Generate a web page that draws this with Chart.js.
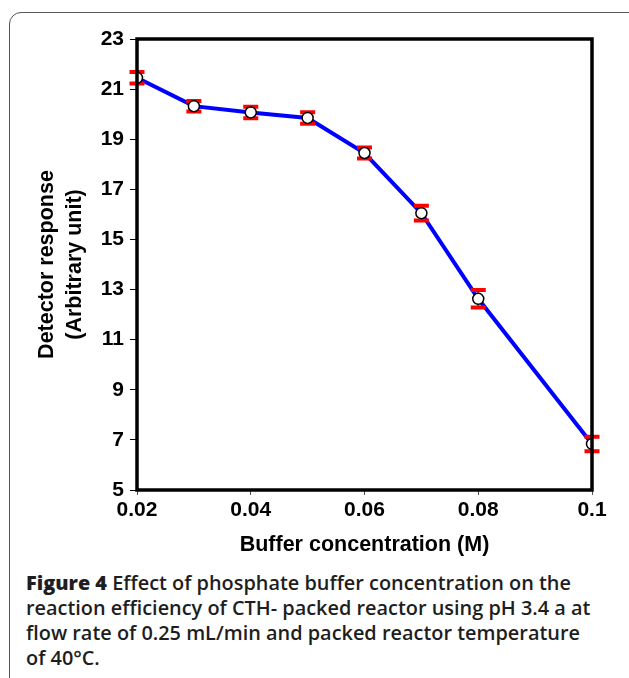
<!DOCTYPE html>
<html>
<head>
<meta charset="utf-8">
<script src="https://cdn.jsdelivr.net/npm/chart.js@4/dist/chart.umd.min.js"></script>
<style>
  body { margin: 0; background: #fff; width: 629px; height: 678px; overflow: hidden; position: relative; }
  #frame { position: absolute; left: 9px; top: 12px; width: 640px; height: 700px; border: 1.5px solid #555; border-radius: 12px; box-sizing: border-box; }
  #chart { position: absolute; left: 0; top: 0; }
  #caption { position: absolute; left: 26px; top: 570px; width: 600px; font-family: "Open Sans", sans-serif; font-size: 19.9px; font-weight: 600; line-height: 25px; color: #1e1e1e; white-space: nowrap; }
  #caption b { font-weight: 800; }
</style>
</head>
<body>
<div id="frame"></div>
<canvas id="chart" width="629" height="560"></canvas>
<div id="caption"><b>Figure 4</b> Effect of phosphate buffer concentration on the<br>reaction efficiency of CTH- packed reactor using pH 3.4 a at<br>flow rate of 0.25 mL/min and packed reactor temperature<br>of 40°C.</div>
<script>
// valeurs
const concentrations = [0.02, 0.03, 0.04, 0.05, 0.06, 0.07, 0.08, 0.1];
const reponses = [21.45, 20.32, 20.07, 19.85, 18.45, 16.05, 12.63, 6.84];
const erreurs = [0.23, 0.21, 0.23, 0.23, 0.22, 0.29, 0.35, 0.29];
const xTickLabels = ['0.02', '0.04', '0.06', '0.08', '0.1'];
const yTickLabels = ['5', '7', '9', '11', '13', '15', '17', '19', '21', '23'];

const points = concentrations.map((c, i) => ({x: c, y: reponses[i]}));

const errorBars = {
	id: 'errorBars',
	afterDatasetDraw(chart, args) {
		if (args.index !== 0) return;
		const ctx = chart.ctx;
		const xs = chart.scales.x, ys = chart.scales.y;
		ctx.save();
		ctx.strokeStyle = '#ff0000';
		concentrations.forEach((c, i) => {
			const px = xs.getPixelForValue(c);
			const top = ys.getPixelForValue(reponses[i] + erreurs[i]);
			const bot = ys.getPixelForValue(reponses[i] - erreurs[i]);
			ctx.lineWidth = 2;
			ctx.beginPath();
			ctx.moveTo(px, top); ctx.lineTo(px, bot);
			ctx.stroke();
			ctx.lineWidth = 4;
			ctx.beginPath();
			ctx.moveTo(px - 7.5, top); ctx.lineTo(px + 7.5, top);
			ctx.moveTo(px - 7.5, bot); ctx.lineTo(px + 7.5, bot);
			ctx.stroke();
		});
		ctx.restore();
	}
};

const cadre = {
	id: 'cadre',
	afterDraw(chart) {
		const a = chart.chartArea, ctx = chart.ctx;
		ctx.save();
		ctx.strokeStyle = '#000';
		ctx.lineWidth = 3.5;
		ctx.strokeRect(a.left, a.top, a.right - a.left, a.bottom - a.top);
		ctx.restore();
	}
};

new Chart(document.getElementById('chart'), {
	type: 'line',
	data: {
		datasets: [{
			data: points,
			borderColor: '#0000ff',
			borderWidth: 4,
			pointRadius: 0,
			fill: false,
			order: 2
		}, {
			data: points,
			showLine: false,
			pointRadius: 5.5,
			pointBackgroundColor: '#fff',
			pointBorderColor: '#000',
			pointBorderWidth: 1.5,
			order: 1
		}]
	},
	options: {
		responsive: false,
		animation: false,
		events: [],
		layout: { padding: { left: 0, top: 39, right: 37, bottom: 0 } },
		plugins: { legend: { display: false }, tooltip: { enabled: false } },
		scales: {
			x: {
				type: 'linear',
				min: 0.02, max: 0.1,
				afterFit: s => { s.height = 70; },
				afterBuildTicks: s => { s.ticks = xTickLabels.map(v => ({value: parseFloat(v)})); },
				ticks: {
					callback: (v, i) => xTickLabels[i],
					color: '#000',
					font: { family: 'Liberation Sans', size: 21, weight: 'bold' },
					padding: 3,
					maxRotation: 0
				},
				grid: { drawOnChartArea: false, tickLength: 5, tickColor: '#555', tickWidth: 1 },
				border: { display: false },
				title: {
					display: true,
					text: 'Buffer concentration (M)',
					color: '#000',
					font: { family: 'Liberation Sans', size: 21.5, weight: 'bold' },
					padding: { top: 0, bottom: 2 }
				}
			},
			y: {
				min: 5, max: 23,
				afterFit: s => { s.width = 137; },
				afterBuildTicks: s => { s.ticks = yTickLabels.map(v => ({value: parseFloat(v)})); },
				ticks: {
					callback: (v, i) => yTickLabels[i],
					color: '#000',
					font: { family: 'Liberation Sans', size: 21, weight: 'bold' },
					padding: 6
				},
				grid: { drawOnChartArea: false, tickLength: 7, tickColor: '#000', tickWidth: 1 },
				border: { display: false },
				title: {
					display: true,
					text: ['Detector response', '(Arbitrary unit)'],
					color: '#000',
					font: { family: 'Liberation Sans', size: 21.5, weight: 'bold', lineHeight: 1.3 },
					padding: { top: 33, bottom: 0 }
				}
			}
		}
	},
	plugins: [errorBars, cadre]
});
</script>
</body>
</html>
